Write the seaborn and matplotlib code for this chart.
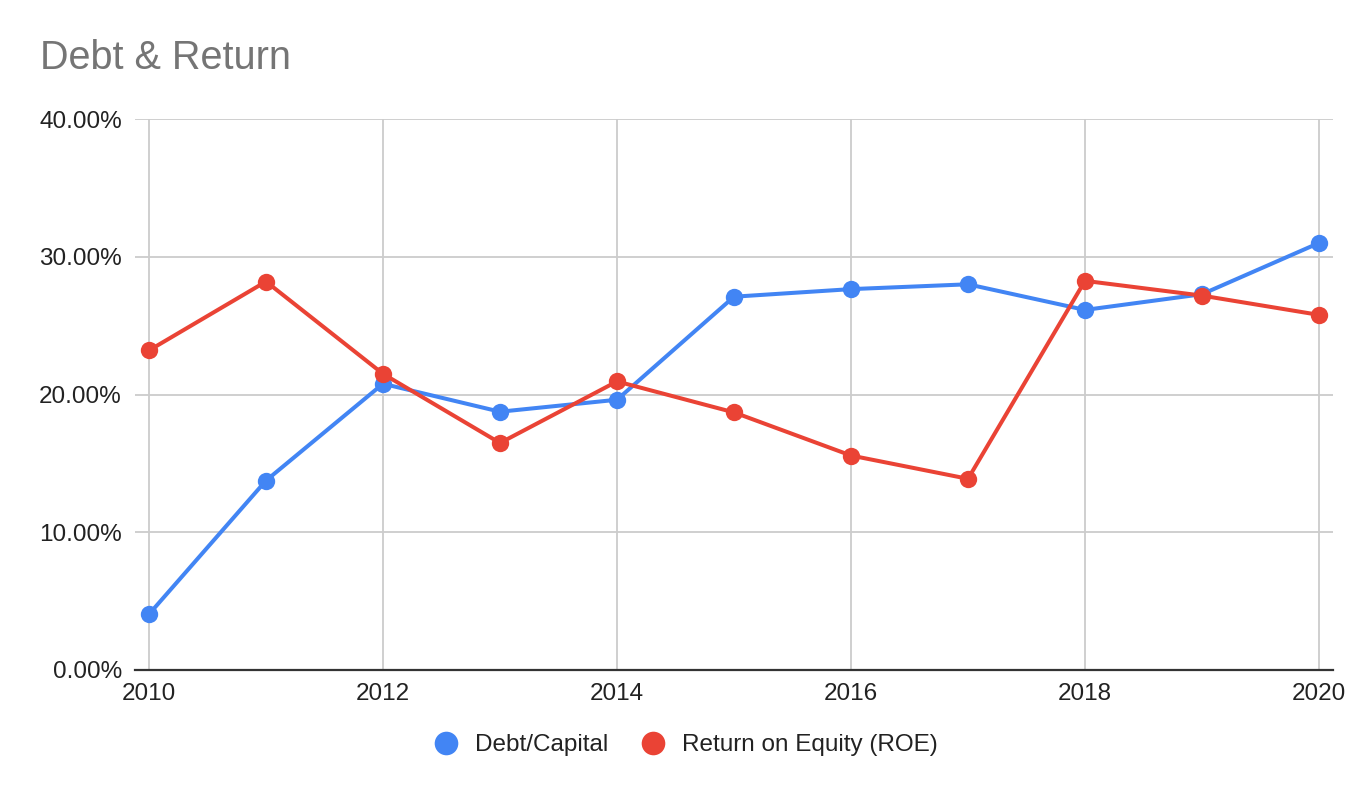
import matplotlib
matplotlib.use("Agg")
import matplotlib.pyplot as plt
from matplotlib.lines import Line2D
from matplotlib.ticker import PercentFormatter, FixedLocator
import seaborn as sns
import pandas as pd

years = [2010, 2011, 2012, 2013, 2014, 2015, 2016, 2017, 2018, 2019, 2020]
debt_capital = [4.05, 13.75, 20.78, 18.75, 19.62, 27.1, 27.65, 28.0, 26.14, 27.28, 31.0]
roe = [23.2, 28.2, 21.5, 16.48, 20.95, 18.7, 15.57, 13.88, 28.25, 27.18, 25.78]
series_names = ["Debt/Capital", "Return on Equity (ROE)"]
colors = ["#4285F4", "#EA4335"]
x_ticks = [2010, 2012, 2014, 2016, 2018, 2020]
y_ticks = [0, 10, 20, 30, 40]
title = "Debt & Return"

df = pd.DataFrame({
    "year": years * 2,
    "value": debt_capital + roe,
    "series": [series_names[0]] * len(years) + [series_names[1]] * len(years),
})

sns.set_theme(style="white")
plt.rcParams["font.family"] = ["Liberation Sans", "DejaVu Sans"]

fig = plt.figure(figsize=(13.72, 7.98), dpi=100)
ax = fig.add_axes([135 / 1372, 1 - 670 / 798, (1333 - 135) / 1372, (670 - 119) / 798])

sns.lineplot(data=df, x="year", y="value", hue="series", hue_order=series_names,
             palette=colors, marker="o", markersize=12.5, markeredgewidth=0,
             linewidth=2.9, ax=ax, legend=False, zorder=3)

ax.set_xlim(2010 - 14 / 117, 2020 + 14 / 117)
ax.set_ylim(0, 40)
ax.xaxis.set_major_locator(FixedLocator(x_ticks))
ax.set_xticklabels([str(t) for t in x_ticks])
ax.yaxis.set_major_locator(FixedLocator(y_ticks))
ax.yaxis.set_major_formatter(PercentFormatter(decimals=2))
ax.grid(True, color="#CCCCCC", linewidth=1.3, zorder=0)
ax.set_axisbelow(True)
for s in ["top", "right", "left"]:
    ax.spines[s].set_visible(False)
ax.spines["bottom"].set_color("#333333")
ax.spines["bottom"].set_linewidth(1.6)
ax.tick_params(axis="both", length=0, labelsize=17.5, colors="#222222")
ax.tick_params(axis="y", pad=9.5)
ax.tick_params(axis="x", pad=9)
ax.set_xlabel("")
ax.set_ylabel("")

fig.text(40 / 1372, 1 - 58 / 798, title, fontsize=28.5, color="#757575",
         ha="left", va="center")

handles = [Line2D([], [], linestyle="none", marker="o", markersize=17,
                  markerfacecolor=c, markeredgewidth=0) for c in colors]
fig.legend(handles, series_names, loc="center", bbox_to_anchor=(686 / 1372, 1 - 745 / 798),
           ncol=2, frameon=False, fontsize=17.5, handlelength=0.95,
           handletextpad=0.72, columnspacing=1.34, labelcolor="#222222")

fig.savefig("out.png", dpi=100, facecolor="white")
